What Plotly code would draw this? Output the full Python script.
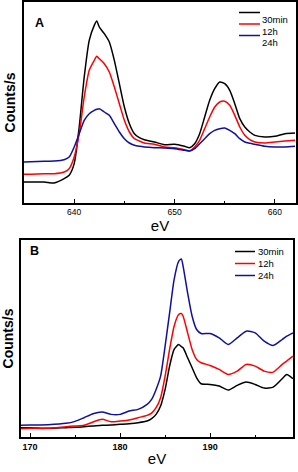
import plotly.graph_objects as go

# ---------------- Panel A data (eV, counts in arbitrary units) ----------------
ev_a = [635, 637, 638, 639, 639.5, 640, 640.5, 641, 641.5, 642, 642.25, 642.5, 643, 643.5,
        644, 644.5, 645, 645.5, 646, 646.5, 647, 648, 649, 650, 651, 651.5, 652, 652.5,
        653, 653.5, 654, 654.5, 655, 655.5, 656, 656.5, 657, 657.5, 658, 659, 660, 661, 662]
a_30min = [63, 63, 60, 73, 83, 118, 228, 378, 488, 533, 546, 528, 508, 483,
           428, 358, 288, 238, 208, 196, 190, 183, 175, 176, 170, 166, 178, 208,
           258, 308, 343, 363, 358, 338, 298, 253, 228, 213, 203, 198, 200, 208, 210]
a_12h = [86, 88, 88, 93, 103, 138, 208, 318, 398, 428, 440, 433, 418, 393,
         348, 298, 248, 213, 193, 186, 180, 176, 168, 166, 160, 156, 168, 188,
         223, 258, 288, 303, 305, 293, 263, 228, 203, 190, 183, 180, 183, 186, 188]
a_24h = [123, 125, 126, 130, 138, 168, 208, 248, 268, 278, 281, 283, 273, 263,
         238, 213, 193, 180, 173, 170, 168, 166, 165, 163, 158, 156, 163, 178,
         193, 208, 218, 223, 225, 218, 208, 193, 183, 179, 176, 170, 168, 168, 170]

# ---------------- Panel B data ----------------
ev_b = [169, 170, 172, 174, 175, 176, 177, 178, 179, 180, 181, 182, 183, 183.5, 184, 184.5,
        185, 185.5, 186, 186.5, 186.8, 187, 187.5, 188, 188.5, 189, 190, 191, 192, 193,
        194, 195, 196, 197, 198, 198.5, 199.2]
b_30min = [28, 28, 26, 28, 29, 31, 33, 35, 36, 38, 40, 43, 48, 55, 68, 93,
           143, 213, 263, 278, 272, 268, 238, 208, 178, 160, 158, 153, 141, 155,
           165, 158, 147, 150, 175, 188, 175]
b_12h = [25, 26, 26, 31, 33, 35, 45, 53, 46, 48, 51, 58, 65, 72, 88, 118,
         183, 263, 333, 368, 371, 363, 313, 263, 233, 223, 215, 203, 188, 198,
         218, 213, 198, 195, 218, 228, 243]
b_24h = [35, 36, 37, 41, 47, 58, 70, 75, 68, 68, 78, 83, 98, 113, 143, 183,
         273, 373, 473, 528, 535, 513, 433, 363, 323, 311, 311, 298, 278, 298,
         318, 313, 288, 275, 293, 303, 313]

series_names = ["30min", "12h", "24h"]
colors = ["#000000", "#ff0000", "#10109e"]

xticks_a = [640, 650, 660]
xticks_b = [170, 180, 190]

fig = go.Figure()

for vals, name, col in zip([a_30min, a_12h, a_24h], series_names, colors):
    fig.add_trace(go.Scatter(x=ev_a, y=vals, mode="lines", name=name,
                             line=dict(color=col, width=1.5, shape="spline", smoothing=0.6),
                             xaxis="x", yaxis="y", showlegend=False))
for vals, name, col in zip([b_30min, b_12h, b_24h], series_names, colors):
    fig.add_trace(go.Scatter(x=ev_b, y=vals, mode="lines", name=name,
                             line=dict(color=col, width=1.5, shape="spline", smoothing=0.6),
                             xaxis="x2", yaxis="y2", showlegend=False))

W, H = 298, 472
def px(x):
    return x / W
def py(y):
    return 1 - y / H

axis_common = dict(showline=True, mirror=True, linecolor="black", linewidth=1.5,
                   showgrid=False, zeroline=False, automargin=False)

fig.update_layout(
    width=W, height=H,
    margin=dict(l=0, r=0, t=0, b=0),
    plot_bgcolor="white", paper_bgcolor="white",
    font=dict(family="Liberation Sans, Arial, sans-serif", color="black"),
    xaxis=dict(domain=[px(24), px(296)], anchor="y", range=[635, 662.1],
               tickmode="array", tickvals=xticks_a, ticks="inside", ticklen=4,
               tickwidth=1, tickcolor="black",
               minor=dict(tickmode="array", tickvals=[645, 655], ticks="inside",
                          ticklen=2, tickcolor="black"),
               tickfont=dict(size=8.5),
               title=dict(text="eV", font=dict(size=15), standoff=3),
               **axis_common),
    yaxis=dict(domain=[py(203), py(2)], anchor="x", range=[0, 603],
               showticklabels=False, ticks="",
               title=dict(text="<b>Counts/s</b>", font=dict(size=14), standoff=3),
               **axis_common),
    xaxis2=dict(domain=[px(21), px(293)], anchor="y2", range=[169, 199.2],
                tickmode="array", tickvals=xticks_b, ticks="inside", ticklen=4,
                tickwidth=1, tickcolor="black",
                minor=dict(tickmode="array", tickvals=[175, 185, 195], ticks="inside",
                           ticklen=2, tickcolor="black"),
                tickfont=dict(size=9, weight="bold"),
                title=dict(text="eV", font=dict(size=15), standoff=3),
                **axis_common),
    yaxis2=dict(domain=[py(437), py(240)], anchor="x2", range=[0, 592],
                showticklabels=False, ticks="",
                title=dict(text="<b>Counts/s</b>", font=dict(size=14), standoff=3),
                **axis_common),
)

# panel letters
fig.add_annotation(text="<b>A</b>", x=px(32.5), y=py(14), xref="paper", yref="paper",
                   showarrow=False, font=dict(size=12.5))
fig.add_annotation(text="<b>B</b>", x=px(28), y=py(251.5), xref="paper", yref="paper",
                   showarrow=False, font=dict(size=12.5))

# manual legends
def add_legend(x0, x1, xt, ys):
    for name, col, yy in zip(series_names, colors, ys):
        fig.add_shape(type="line", x0=px(x0), x1=px(x1), y0=py(yy), y1=py(yy),
                      xref="paper", yref="paper", line=dict(color=col, width=1.5))
        fig.add_annotation(text=name, x=px(xt), y=py(yy), xref="paper", yref="paper",
                           xanchor="left", showarrow=False, font=dict(size=9.5))

add_legend(239, 260, 260, [12.5, 24, 35.5])
add_legend(235, 255, 256, [251.5, 263.5, 275.5])

fig.write_html("out.html", config={"displayModeBar": False},
               post_script="document.body.style.margin='0';document.body.style.overflow='hidden';")
